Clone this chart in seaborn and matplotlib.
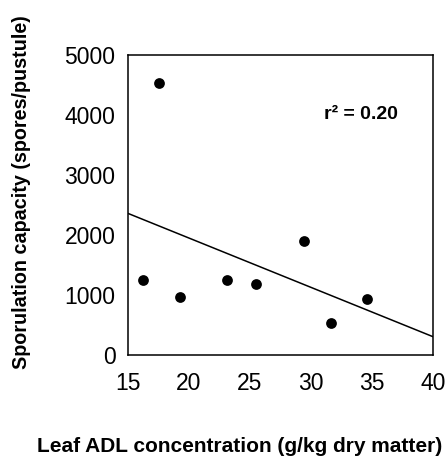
import matplotlib
matplotlib.use("Agg")
import matplotlib.pyplot as plt
import seaborn as sns
import pandas as pd

# data
adl = [16.2, 17.5, 19.3, 23.1, 25.5, 29.4, 31.6, 34.6]
spores = [1250, 4530, 970, 1250, 1180, 1900, 540, 930]

# fitted regression line (endpoints)
fit_x = [15, 40]
fit_y = [2360, 305]

xticks = [15, 20, 25, 30, 35, 40]
yticks = [0, 1000, 2000, 3000, 4000, 5000]

sns.set_theme(style="white")
plt.rcParams['font.family'] = ['Liberation Sans', 'DejaVu Sans']

df = pd.DataFrame({"adl": adl, "spores": spores})
fit = pd.DataFrame({"x": fit_x, "y": fit_y})

fig = plt.figure(figsize=(4.45, 4.59), dpi=100)
ax = fig.add_axes([128 / 445, 1 - 355 / 459, 305 / 445, 300 / 459])

sns.lineplot(data=fit, x="x", y="y", ax=ax, color="black", linewidth=1.1)
sns.scatterplot(data=df, x="adl", y="spores", ax=ax, color="black", s=60,
                edgecolor="black", linewidth=0, zorder=3)

ax.set_xlim(15, 40)
ax.set_ylim(0, 5000)
ax.set_xticks(xticks)
ax.set_yticks(yticks)
ax.tick_params(direction="in", length=9, width=1, labelsize=16.5, color="black",
               labelcolor="black")
ax.tick_params(axis="y", pad=9)
ax.tick_params(axis="x", pad=12)
for s in ax.spines.values():
    s.set_color("black")
    s.set_linewidth(1.1)

ax.set_xlabel("")
ax.set_ylabel("")

fig.text(22 / 445, 1 - 192 / 459, "Sporulation capacity (spores/pustule)",
         rotation=90, ha="center", va="center", fontsize=14.2,
         fontweight="bold", color="black")
fig.text(240 / 445, 1 - 447 / 459, "Leaf ADL concentration (g/kg dry matter)",
         ha="center", va="center", fontsize=15, fontweight="bold", color="black")

ax.text(31.1, 4000, "r\u00b2 = 0.20", ha="left", va="center", fontsize=14,
        fontweight="bold", color="black")

fig.savefig("out.png", dpi=100)
